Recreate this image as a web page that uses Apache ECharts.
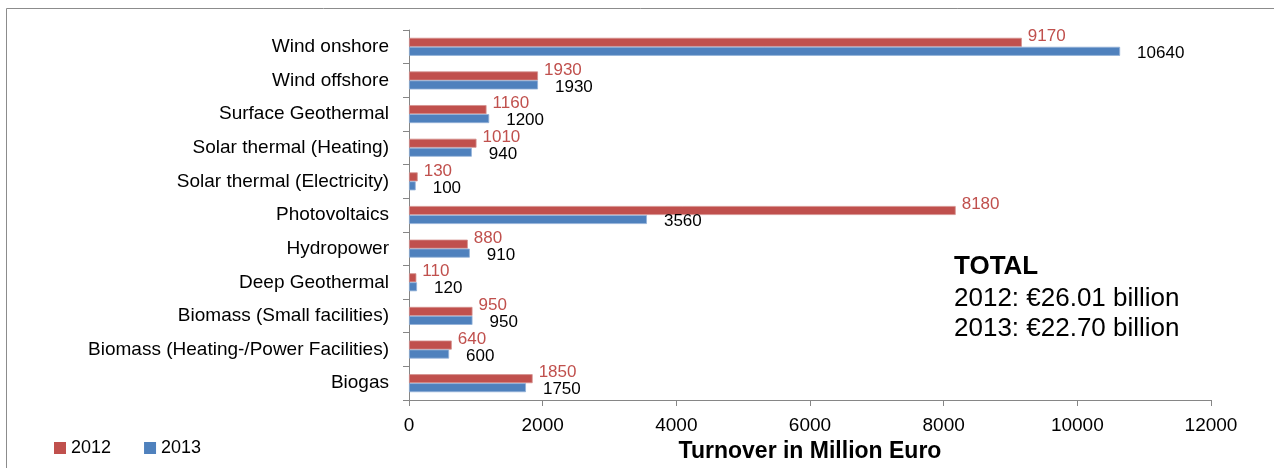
<!DOCTYPE html>
<html>
<head>
<meta charset="utf-8">
<script src="https://cdn.jsdelivr.net/npm/echarts@6/dist/echarts.min.js"></script>
<style>
html,body{margin:0;padding:0;background:#fff;}
#chart{width:1274px;height:468px;}
</style>
</head>
<body>
<div id="chart"></div>
<script>
const categories = [
  "Wind onshore",
  "Wind offshore",
  "Surface Geothermal",
  "Solar thermal (Heating)",
  "Solar thermal (Electricity)",
  "Photovoltaics",
  "Hydropower",
  "Deep Geothermal",
  "Biomass (Small facilities)",
  "Biomass (Heating-/Power Facilities)",
  "Biogas"
];
const values2012 = [9170, 1930, 1160, 1010, 130, 8180, 880, 110, 950, 640, 1850];
const values2013 = [10640, 1930, 1200, 940, 100, 3560, 910, 120, 950, 600, 1750];
const xTicks = [0, 2000, 4000, 6000, 8000, 10000, 12000];
const seriesNames = ["2012", "2013"];
const totalTitle = "TOTAL";
const totalLines = ["2012: €26.01 billion", "2013: €22.70 billion"];

const chart = echarts.init(document.getElementById('chart'), null, {renderer: 'canvas'});
const FONT = "'Liberation Sans', Arial, sans-serif";
const axisGray = '#868686';

const option = {
  animation: false,
  backgroundColor: '#ffffff',
  textStyle: {fontFamily: FONT},
  grid: {left: 409, right: 63, top: 30, bottom: 68, containLabel: false},
  legend: {
    data: seriesNames,
    left: 49, top: 434,
    itemWidth: 12, itemHeight: 12, itemGap: 33,
    icon: 'rect',
    itemStyle: {borderWidth: 0},
    textStyle: {fontFamily: FONT, fontSize: 18, color: '#000', padding: [0,0,0,0]},
  },
  xAxis: {
    type: 'value',
    min: xTicks[0], max: xTicks[xTicks.length-1], interval: xTicks[1]-xTicks[0],
    splitLine: {show: false},
    axisLine: {show: true, lineStyle: {color: axisGray, width: 1}},
    axisTick: {show: true, length: 6, lineStyle: {color: axisGray}},
    axisLabel: {fontFamily: FONT, fontSize: 19, color: '#000', margin: 16,
      formatter: function (v) { return String(v); }},
    name: 'Turnover in Million Euro',
    nameLocation: 'middle',
    nameGap: 40,
    nameTextStyle: {fontFamily: FONT, fontSize: 23, fontWeight: 'bold', color: '#000'}
  },
  yAxis: {
    type: 'category',
    data: categories,
    inverse: true,
    axisLine: {show: true, lineStyle: {color: axisGray, width: 1}},
    axisTick: {show: true, length: 6, lineStyle: {color: axisGray}},
    axisLabel: {fontFamily: FONT, fontSize: 19, color: '#000', margin: 20}
  },
  series: [
    {
      name: seriesNames[0], type: 'bar', data: values2012,
      barWidth: 9, barGap: '0%',
      itemStyle: {color: '#C0504D', borderColor: '#D4908E', borderWidth: 0.8},
      label: {show: true, position: 'right', distance: 6, offset: [0, -6],
        fontFamily: FONT, fontSize: 17, color: '#C0504D'}
    },
    {
      name: seriesNames[1], type: 'bar', data: values2013,
      barWidth: 9, barGap: '0%',
      itemStyle: {color: '#4F81BD', borderColor: '#93B1D8', borderWidth: 0.8},
      label: {show: true, position: 'right', distance: 17, offset: [0, 2],
        fontFamily: FONT, fontSize: 17, color: '#000'}
    }
  ],
  graphic: [
    {type: 'polyline', shape: {points: [[6.5, 480], [6.5, 8.5], [1290, 8.5]]},
      style: {fill: null, stroke: '#8c8c8c', lineWidth: 1}, silent: true, z: -1},
    {type: 'text', left: 954, top: 254,
      style: {text: totalTitle, font: "bold 26px 'Liberation Sans', Arial, sans-serif", fill: '#000'}},
    {type: 'text', left: 954, top: 284,
      style: {text: totalLines.join('\n'), font: "26px 'Liberation Sans', Arial, sans-serif", fill: '#000', lineHeight: 30}}
  ]
};
chart.setOption(option);
</script>
</body>
</html>
